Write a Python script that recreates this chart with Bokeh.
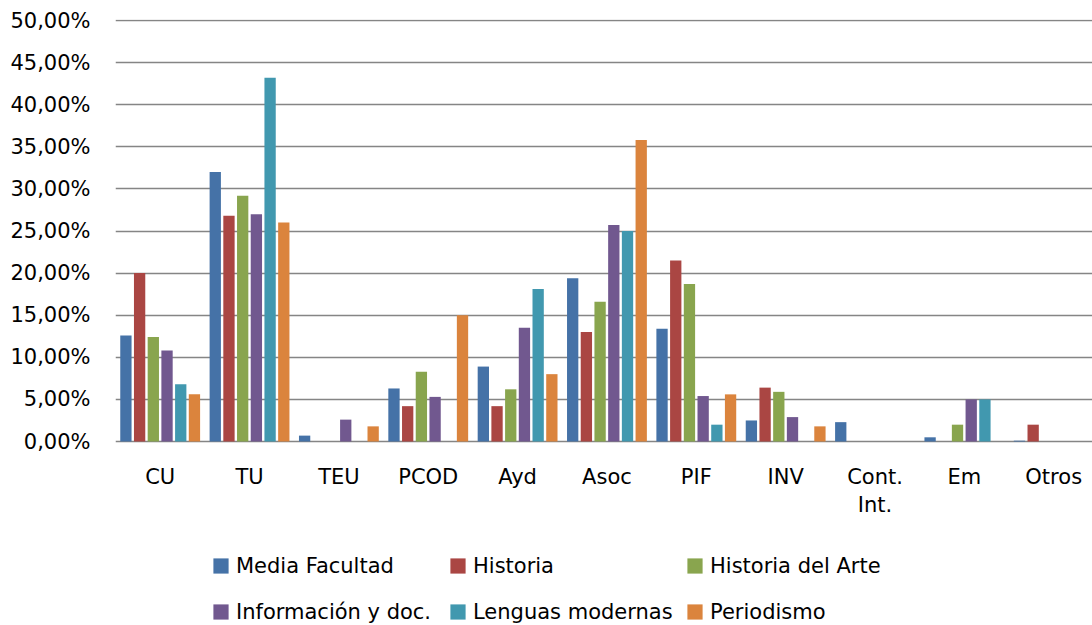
from bokeh.plotting import figure
from bokeh.models import (ColumnDataSource, Range1d, FixedTicker, LinearAxis,
                          Legend, LegendItem, Grid)
from bokeh.embed import file_html
from bokeh.resources import INLINE

categories = ["CU", "TU", "TEU", "PCOD", "Ayd", "Asoc", "PIF", "INV",
              "Cont.\nInt.", "Em", "Otros"]
series_names = ["Media Facultad", "Historia", "Historia del Arte",
                "Información y doc.", "Lenguas modernas", "Periodismo"]
media_facultad = [12.6, 32.0, 0.7, 6.3, 8.9, 19.4, 13.4, 2.5, 2.3, 0.5, 0.1]
historia = [20.0, 26.8, 0.0, 4.2, 4.2, 13.0, 21.5, 6.4, 0.0, 0.0, 2.0]
historia_arte = [12.4, 29.2, 0.0, 8.3, 6.2, 16.6, 18.7, 5.9, 0.0, 2.0, 0.0]
informacion = [10.8, 27.0, 2.6, 5.3, 13.5, 25.7, 5.4, 2.9, 0.0, 5.0, 0.0]
lenguas = [6.8, 43.2, 0.0, 0.0, 18.1, 25.0, 2.0, 0.0, 0.0, 5.0, 0.0]
periodismo = [5.6, 26.0, 1.8, 15.0, 8.0, 35.8, 5.6, 1.8, 0.0, 0.0, 0.0]
y_ticks = [0.0, 0.05, 0.10, 0.15, 0.20, 0.25, 0.30, 0.35, 0.40, 0.45, 0.50]
y_labels = ["0,00%", "5,00%", "10,00%", "15,00%", "20,00%", "25,00%",
            "30,00%", "35,00%", "40,00%", "45,00%", "50,00%"]
colors = ["#4572A7", "#AA4643", "#89A54E", "#71588F", "#4198AF", "#DB843D"]

all_series = [media_facultad, historia, historia_arte, informacion, lenguas, periodismo]

FONT = "DejaVu Sans"
FS = "21px"

# frame runs to the bottom of the figure; the area below 0 holds the
# category labels and the legend
p = figure(width=1092, height=625, output_backend="svg", toolbar_location=None,
           x_range=Range1d(0, 10.934), y_range=Range1d(-0.2185, 0.50119),
           x_axis_type=None, y_axis_type=None,
           min_border_left=115, min_border_right=0, min_border_top=19,
           min_border_bottom=0)
p.outline_line_color = None
p.background_fill_color = "white"
p.border_fill_color = "white"

p.add_layout(Grid(dimension=1, ticker=FixedTicker(ticks=y_ticks),
                  grid_line_color="#858585", grid_line_width=1.6))

step = 0.1534
bw = 0.1265
items = []
for k, (name, vals, col) in enumerate(zip(series_names, all_series, colors)):
    xs = [i + 0.5 + (k - 2.5) * step for i in range(len(categories))]
    src = ColumnDataSource(dict(x=xs, top=[v / 100.0 for v in vals]))
    r = p.vbar(x="x", top="top", bottom=0, width=bw, source=src,
               fill_color=col, line_color=None)
    items.append(LegendItem(label=name, renderers=[r]))

# y axis
yaxis = LinearAxis(ticker=FixedTicker(ticks=y_ticks),
                   major_label_overrides={t: l for t, l in zip(y_ticks, y_labels)})
yaxis.axis_line_color = None
yaxis.major_tick_line_color = None
yaxis.minor_tick_line_color = None
yaxis.major_tick_out = 0
yaxis.major_tick_in = 0
yaxis.major_label_standoff = 25
yaxis.major_label_text_font = FONT
yaxis.major_label_text_font_size = FS
yaxis.major_label_text_color = "black"
p.add_layout(yaxis, "left")

# x axis, drawn at y = 0 inside the frame
x_ticks = [i + 0.5 for i in range(len(categories))]
xaxis = LinearAxis(ticker=FixedTicker(ticks=x_ticks), fixed_location=0,
                   major_label_overrides={t: c for t, c in zip(x_ticks, categories)})
xaxis.axis_line_color = None
xaxis.major_tick_line_color = None
xaxis.minor_tick_line_color = None
xaxis.major_tick_out = 0
xaxis.major_tick_in = 0
xaxis.major_label_standoff = 23
xaxis.major_label_text_font = FONT
xaxis.major_label_text_font_size = FS
xaxis.major_label_text_color = "black"
p.add_layout(xaxis, "below")

legend = Legend(items=items, orientation="horizontal", ncols=3,
                location=(96, -4))
legend.padding = 0
legend.margin = 0
legend.spacing = 11
legend.glyph_width = 19
legend.glyph_height = 19
legend.label_standoff = 6
legend.label_width = 201
legend.label_height = 35
legend.label_text_font = FONT
legend.label_text_font_size = FS
legend.label_text_color = "black"
legend.border_line_color = None
legend.background_fill_alpha = 0
p.add_layout(legend, "center")

open("out.html", "w").write(file_html(p, INLINE))
